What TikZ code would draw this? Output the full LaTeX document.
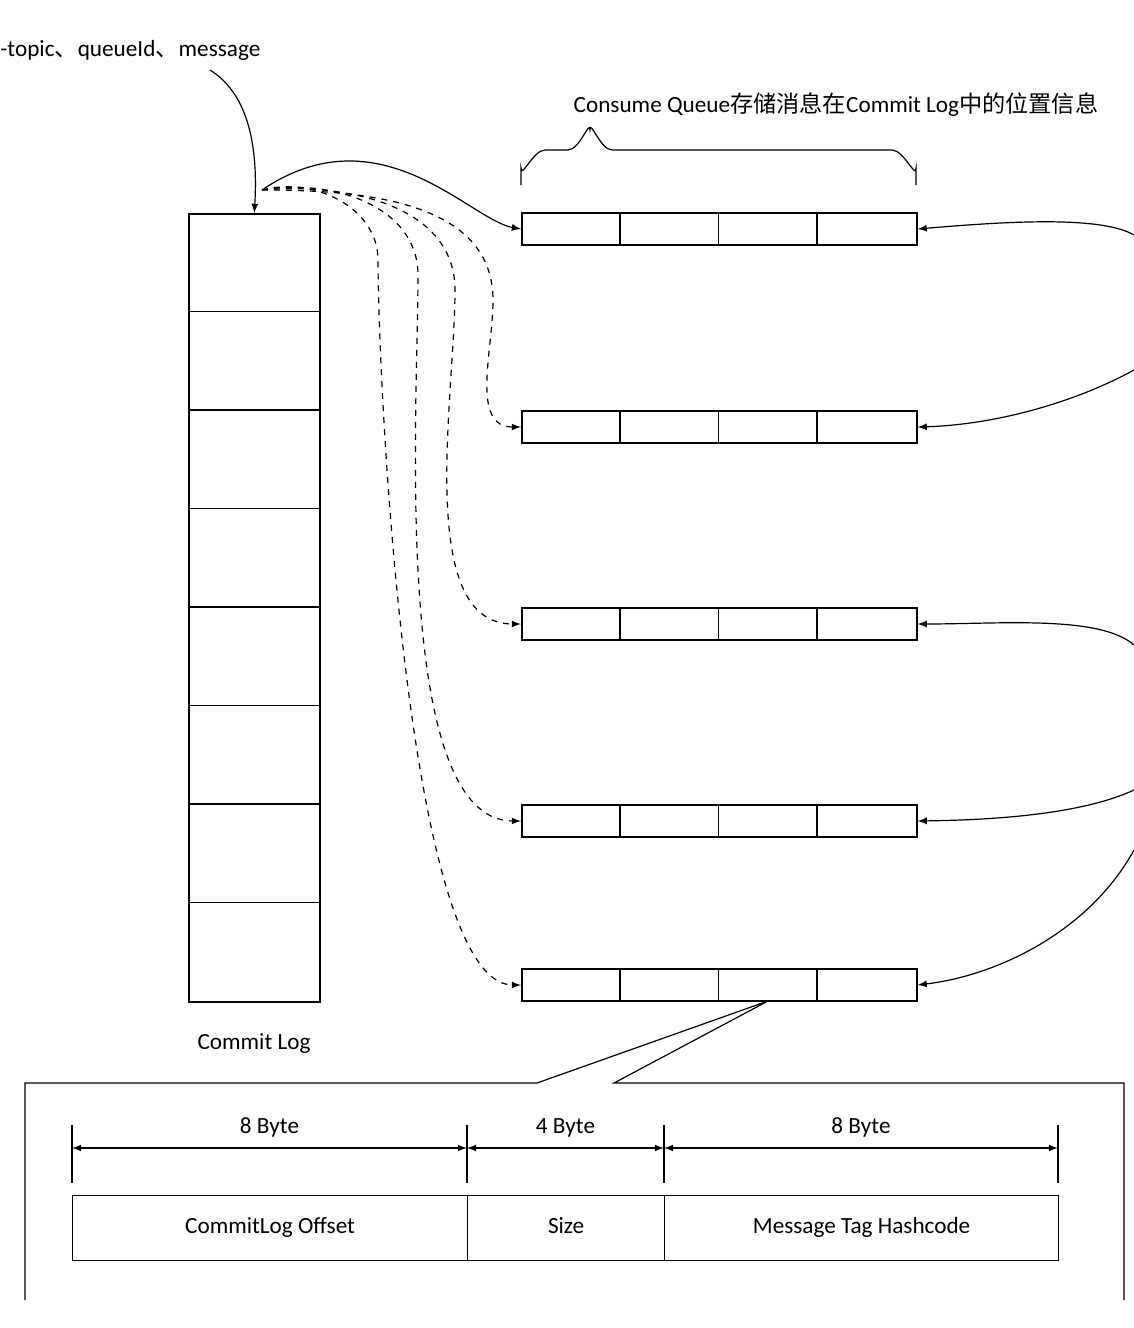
\documentclass[tikz,border=0pt]{standalone}
\usepackage{fontspec}
\setmainfont{Carlito}
\newfontfamily\cjk{Noto Sans CJK SC}
\usetikzlibrary{calc,positioning,arrows}
\tikzset{
    cell/.style={draw, thick, rectangle, inner sep=0pt},
    queue/.style={cell, minimum width=197.5pt, minimum height=16pt},
    link/.style={-latex, semithick},
    dlink/.style={link, dashed},
    dim/.style={latex-latex, semithick}
}
\begin{document}
\begin{tikzpicture}[x=0.5pt,y=-0.5pt,font=\fontsize{11.6}{14}\selectfont]
\useasboundingbox (0,0) rectangle (1134,1328);

% commit log
\node[cell, minimum width=65.5pt, minimum height=394pt, anchor=north west] (log) at (188,213) {};
\foreach \i in {1,...,7}
  \draw[thick] ($(log.north west)+(0,\i*98.5)$) -- ($(log.north east)+(0,\i*98.5)$);
\node (loglabel) at (254,1043) {Commit Log};

% consume queues
\foreach \n/\y in {1/229, 2/427, 3/624, 4/821, 5/985} {
  \node[queue, anchor=west] (q\n) at (521,\y) {};
  \foreach \i in {1,2,3}
    \draw[thick] ($(q\n.north west)+(\i*98.75,0)$) -- ($(q\n.south west)+(\i*98.75,0)$);
}

% input
\node[anchor=west, inner sep=0pt] (msg) at (0,50) {-topic{\cjk 、}queueId{\cjk 、}message};
\coordinate (src) at (210,70);
\draw[link] (src) .. controls (250,95) and (258,150) .. (log.north);

% links from log to queues
\coordinate (o) at (262,190);
\draw[link] (o) .. controls (380,110) and (470,220) .. (q1.west);
\draw[dlink] (o) to[out=0,in=90] (493,300) to[out=-90,in=180] (q2.west);
\draw[dlink] (o) to[out=5,in=90] (455,290) to[out=-90,in=180,looseness=0.8] (q3.west);
\draw[dlink] (o) to[out=10,in=90] (418,275) to[out=-90,in=180,looseness=0.6] (q4.west);
\draw[dlink] (o) to[out=15,in=90] (378,260) to[out=-90,in=180,looseness=0.4] (q5.west);

% brace
\draw[semithick] (521,185) -- (521,168) to[out=-90,in=180] (545,150) -- (568,150)
  to[out=0,in=90] (590,130) to[out=90,in=180] (612,150) -- (892,150)
  to[out=0,in=-90] (916,168) -- (916,185);
\node (cqlabel) at (836,105) {Consume Queue{\cjk 存储消息在}Commit Log{\cjk 中的位置信息}};

% incoming on the right
\coordinate (r1) at (1134,235);
\coordinate (r2) at (1134,370);
\coordinate (r3) at (1134,645);
\coordinate (r4) at (1134,790);
\coordinate (r5) at (1134,850);
\draw[link] (r1) .. controls (1100,215) and (1000,222) .. (q1.east);
\draw[link] (r2) .. controls (1070,405) and (990,425) .. (q2.east);
\draw[link] (r3) .. controls (1100,615) and (1000,624) .. (q3.east);
\draw[link] (r4) .. controls (1080,815) and (990,820) .. (q4.east);
\draw[link] (r5) .. controls (1090,930) and (1000,975) .. (q5.east);

% detail box
\coordinate (tip) at (768,1001);
\draw[semithick] (25,1300) -- (25,1083) -- (537,1083) -- (tip) -- (614,1083)
  -- (1124,1083) -- (1124,1300);

% record layout
\foreach \n/\xa/\xb/\w/\t/\s in {a/72/467/197.5pt/CommitLog Offset/8 Byte,
                                 b/467/664/98.5pt/Size/4 Byte,
                                 c/664/1058/197pt/Message Tag Hashcode/8 Byte} {
  \node[cell, semithick, minimum width=\w, minimum height=32.5pt, anchor=north west] (f\n) at (\xa,1195) {\strut\t};
  \node (s\n) at ({(\xa+\xb)/2},1128) {\strut\s};
}
\foreach \x in {72,467,664,1058}
  \draw[semithick] (\x,1125) -- (\x,1183);
\draw[dim] (72,1148) -- (467,1148);
\draw[dim] (467,1148) -- (664,1148);
\draw[dim] (664,1148) -- (1058,1148);
\end{tikzpicture}
\end{document}
